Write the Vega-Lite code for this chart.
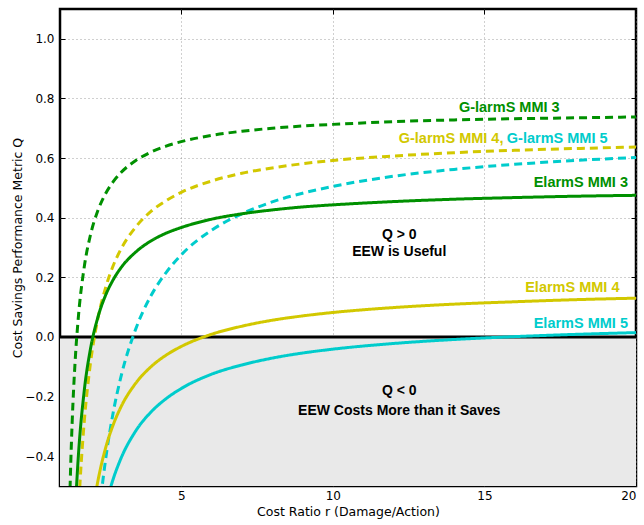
{
  "$schema": "https://vega.github.io/schema/vega-lite/v6.json",
  "width": 576,
  "height": 477,
  "autosize": {"type": "none"},
  "padding": {"left": 60, "top": 9, "right": 8, "bottom": 39},
  "background": "white",
  "config": {
    "view": {"stroke": "black", "strokeWidth": 2.5},
    "font": "DejaVu Sans",
    "axis": {
      "labelFont": "DejaVu Sans",
      "titleFont": "DejaVu Sans",
      "labelFontSize": 12,
      "titleFontSize": 12.5,
      "titleFontWeight": "normal",
      "labelColor": "black",
      "titleColor": "black",
      "domain": false,
      "tickColor": "black",
      "tickSize": -5,
      "tickWidth": 1,
      "gridColor": "#888888",
      "gridDash": [1, 3],
      "gridWidth": 0.8,
      "gridOpacity": 1
    }
  },
  "resolve": {"axis": {"x": "independent", "y": "independent"}},
  "datasets": {
    "curves": [
      {"system": "G-larmS", "mmi": "MMI 3", "r": 1.32, "q": -0.553},
      {"system": "G-larmS", "mmi": "MMI 3", "r": 1.35, "q": -0.44},
      {"system": "G-larmS", "mmi": "MMI 3", "r": 1.4, "q": -0.29},
      {"system": "G-larmS", "mmi": "MMI 3", "r": 1.5, "q": -0.08},
      {"system": "G-larmS", "mmi": "MMI 3", "r": 1.6, "q": 0.06},
      {"system": "G-larmS", "mmi": "MMI 3", "r": 1.8, "q": 0.235},
      {"system": "G-larmS", "mmi": "MMI 3", "r": 2.0, "q": 0.34},
      {"system": "G-larmS", "mmi": "MMI 3", "r": 2.25, "q": 0.424},
      {"system": "G-larmS", "mmi": "MMI 3", "r": 2.5, "q": 0.48},
      {"system": "G-larmS", "mmi": "MMI 3", "r": 2.75, "q": 0.52},
      {"system": "G-larmS", "mmi": "MMI 3", "r": 3, "q": 0.55},
      {"system": "G-larmS", "mmi": "MMI 3", "r": 3.5, "q": 0.592},
      {"system": "G-larmS", "mmi": "MMI 3", "r": 4, "q": 0.62},
      {"system": "G-larmS", "mmi": "MMI 3", "r": 4.5, "q": 0.64},
      {"system": "G-larmS", "mmi": "MMI 3", "r": 5, "q": 0.655},
      {"system": "G-larmS", "mmi": "MMI 3", "r": 6, "q": 0.676},
      {"system": "G-larmS", "mmi": "MMI 3", "r": 7, "q": 0.69},
      {"system": "G-larmS", "mmi": "MMI 3", "r": 8, "q": 0.7},
      {"system": "G-larmS", "mmi": "MMI 3", "r": 9, "q": 0.7075},
      {"system": "G-larmS", "mmi": "MMI 3", "r": 10, "q": 0.713},
      {"system": "G-larmS", "mmi": "MMI 3", "r": 12, "q": 0.722},
      {"system": "G-larmS", "mmi": "MMI 3", "r": 14, "q": 0.728},
      {"system": "G-larmS", "mmi": "MMI 3", "r": 16, "q": 0.732},
      {"system": "G-larmS", "mmi": "MMI 3", "r": 18, "q": 0.735},
      {"system": "G-larmS", "mmi": "MMI 3", "r": 20, "q": 0.738},

      {"system": "G-larmS", "mmi": "MMI 4", "r": 1.65, "q": -0.506},
      {"system": "G-larmS", "mmi": "MMI 4", "r": 1.7, "q": -0.422},
      {"system": "G-larmS", "mmi": "MMI 4", "r": 1.8, "q": -0.284},
      {"system": "G-larmS", "mmi": "MMI 4", "r": 2.0, "q": -0.092},
      {"system": "G-larmS", "mmi": "MMI 4", "r": 2.25, "q": 0.062},
      {"system": "G-larmS", "mmi": "MMI 4", "r": 2.5, "q": 0.164},
      {"system": "G-larmS", "mmi": "MMI 4", "r": 2.75, "q": 0.238},
      {"system": "G-larmS", "mmi": "MMI 4", "r": 3, "q": 0.2925},
      {"system": "G-larmS", "mmi": "MMI 4", "r": 3.5, "q": 0.369},
      {"system": "G-larmS", "mmi": "MMI 4", "r": 4, "q": 0.421},
      {"system": "G-larmS", "mmi": "MMI 4", "r": 4.5, "q": 0.457},
      {"system": "G-larmS", "mmi": "MMI 4", "r": 5, "q": 0.485},
      {"system": "G-larmS", "mmi": "MMI 4", "r": 6, "q": 0.523},
      {"system": "G-larmS", "mmi": "MMI 4", "r": 7, "q": 0.549},
      {"system": "G-larmS", "mmi": "MMI 4", "r": 8, "q": 0.567},
      {"system": "G-larmS", "mmi": "MMI 4", "r": 9, "q": 0.581},
      {"system": "G-larmS", "mmi": "MMI 4", "r": 10, "q": 0.592},
      {"system": "G-larmS", "mmi": "MMI 4", "r": 12, "q": 0.607},
      {"system": "G-larmS", "mmi": "MMI 4", "r": 14, "q": 0.618},
      {"system": "G-larmS", "mmi": "MMI 4", "r": 16, "q": 0.626},
      {"system": "G-larmS", "mmi": "MMI 4", "r": 18, "q": 0.632},
      {"system": "G-larmS", "mmi": "MMI 4", "r": 20, "q": 0.637},

      {"system": "G-larmS", "mmi": "MMI 5", "r": 2.35, "q": -0.536},
      {"system": "G-larmS", "mmi": "MMI 5", "r": 2.5, "q": -0.414},
      {"system": "G-larmS", "mmi": "MMI 5", "r": 2.75, "q": -0.256},
      {"system": "G-larmS", "mmi": "MMI 5", "r": 3, "q": -0.138},
      {"system": "G-larmS", "mmi": "MMI 5", "r": 3.5, "q": 0.027},
      {"system": "G-larmS", "mmi": "MMI 5", "r": 4, "q": 0.138},
      {"system": "G-larmS", "mmi": "MMI 5", "r": 4.5, "q": 0.216},
      {"system": "G-larmS", "mmi": "MMI 5", "r": 5, "q": 0.2755},
      {"system": "G-larmS", "mmi": "MMI 5", "r": 6, "q": 0.358},
      {"system": "G-larmS", "mmi": "MMI 5", "r": 7, "q": 0.413},
      {"system": "G-larmS", "mmi": "MMI 5", "r": 8, "q": 0.453},
      {"system": "G-larmS", "mmi": "MMI 5", "r": 9, "q": 0.482},
      {"system": "G-larmS", "mmi": "MMI 5", "r": 10, "q": 0.505},
      {"system": "G-larmS", "mmi": "MMI 5", "r": 12, "q": 0.539},
      {"system": "G-larmS", "mmi": "MMI 5", "r": 14, "q": 0.562},
      {"system": "G-larmS", "mmi": "MMI 5", "r": 16, "q": 0.579},
      {"system": "G-larmS", "mmi": "MMI 5", "r": 18, "q": 0.592},
      {"system": "G-larmS", "mmi": "MMI 5", "r": 20, "q": 0.602},

      {"system": "ElarmS", "mmi": "MMI 3", "r": 1.52, "q": -0.548},
      {"system": "ElarmS", "mmi": "MMI 3", "r": 1.6, "q": -0.408},
      {"system": "ElarmS", "mmi": "MMI 3", "r": 1.8, "q": -0.18},
      {"system": "ElarmS", "mmi": "MMI 3", "r": 2.0, "q": -0.043},
      {"system": "ElarmS", "mmi": "MMI 3", "r": 2.25, "q": 0.066},
      {"system": "ElarmS", "mmi": "MMI 3", "r": 2.5, "q": 0.139},
      {"system": "ElarmS", "mmi": "MMI 3", "r": 2.75, "q": 0.191},
      {"system": "ElarmS", "mmi": "MMI 3", "r": 3, "q": 0.2305},
      {"system": "ElarmS", "mmi": "MMI 3", "r": 3.5, "q": 0.285},
      {"system": "ElarmS", "mmi": "MMI 3", "r": 4, "q": 0.322},
      {"system": "ElarmS", "mmi": "MMI 3", "r": 4.5, "q": 0.348},
      {"system": "ElarmS", "mmi": "MMI 3", "r": 5, "q": 0.367},
      {"system": "ElarmS", "mmi": "MMI 3", "r": 6, "q": 0.395},
      {"system": "ElarmS", "mmi": "MMI 3", "r": 7, "q": 0.413},
      {"system": "ElarmS", "mmi": "MMI 3", "r": 8, "q": 0.426},
      {"system": "ElarmS", "mmi": "MMI 3", "r": 9, "q": 0.436},
      {"system": "ElarmS", "mmi": "MMI 3", "r": 10, "q": 0.443},
      {"system": "ElarmS", "mmi": "MMI 3", "r": 12, "q": 0.454},
      {"system": "ElarmS", "mmi": "MMI 3", "r": 14, "q": 0.462},
      {"system": "ElarmS", "mmi": "MMI 3", "r": 16, "q": 0.4675},
      {"system": "ElarmS", "mmi": "MMI 3", "r": 18, "q": 0.472},
      {"system": "ElarmS", "mmi": "MMI 3", "r": 20, "q": 0.475},

      {"system": "ElarmS", "mmi": "MMI 4", "r": 2.2, "q": -0.51},
      {"system": "ElarmS", "mmi": "MMI 4", "r": 2.25, "q": -0.483},
      {"system": "ElarmS", "mmi": "MMI 4", "r": 2.5, "q": -0.374},
      {"system": "ElarmS", "mmi": "MMI 4", "r": 2.75, "q": -0.296},
      {"system": "ElarmS", "mmi": "MMI 4", "r": 3, "q": -0.237},
      {"system": "ElarmS", "mmi": "MMI 4", "r": 3.5, "q": -0.155},
      {"system": "ElarmS", "mmi": "MMI 4", "r": 4, "q": -0.1},
      {"system": "ElarmS", "mmi": "MMI 4", "r": 4.5, "q": -0.061},
      {"system": "ElarmS", "mmi": "MMI 4", "r": 5, "q": -0.032},
      {"system": "ElarmS", "mmi": "MMI 4", "r": 6, "q": 0.009},
      {"system": "ElarmS", "mmi": "MMI 4", "r": 7, "q": 0.036},
      {"system": "ElarmS", "mmi": "MMI 4", "r": 8, "q": 0.056},
      {"system": "ElarmS", "mmi": "MMI 4", "r": 9, "q": 0.0705},
      {"system": "ElarmS", "mmi": "MMI 4", "r": 10, "q": 0.082},
      {"system": "ElarmS", "mmi": "MMI 4", "r": 12, "q": 0.0985},
      {"system": "ElarmS", "mmi": "MMI 4", "r": 14, "q": 0.11},
      {"system": "ElarmS", "mmi": "MMI 4", "r": 16, "q": 0.118},
      {"system": "ElarmS", "mmi": "MMI 4", "r": 18, "q": 0.125},
      {"system": "ElarmS", "mmi": "MMI 4", "r": 20, "q": 0.13},

      {"system": "ElarmS", "mmi": "MMI 5", "r": 2.65, "q": -0.511},
      {"system": "ElarmS", "mmi": "MMI 5", "r": 2.75, "q": -0.478},
      {"system": "ElarmS", "mmi": "MMI 5", "r": 3, "q": -0.41},
      {"system": "ElarmS", "mmi": "MMI 5", "r": 3.5, "q": -0.315},
      {"system": "ElarmS", "mmi": "MMI 5", "r": 4, "q": -0.252},
      {"system": "ElarmS", "mmi": "MMI 5", "r": 4.5, "q": -0.207},
      {"system": "ElarmS", "mmi": "MMI 5", "r": 5, "q": -0.173},
      {"system": "ElarmS", "mmi": "MMI 5", "r": 6, "q": -0.125},
      {"system": "ElarmS", "mmi": "MMI 5", "r": 7, "q": -0.094},
      {"system": "ElarmS", "mmi": "MMI 5", "r": 8, "q": -0.071},
      {"system": "ElarmS", "mmi": "MMI 5", "r": 9, "q": -0.054},
      {"system": "ElarmS", "mmi": "MMI 5", "r": 10, "q": -0.041},
      {"system": "ElarmS", "mmi": "MMI 5", "r": 12, "q": -0.022},
      {"system": "ElarmS", "mmi": "MMI 5", "r": 14, "q": -0.0086},
      {"system": "ElarmS", "mmi": "MMI 5", "r": 16, "q": 0.0011},
      {"system": "ElarmS", "mmi": "MMI 5", "r": 18, "q": 0.0086},
      {"system": "ElarmS", "mmi": "MMI 5", "r": 20, "q": 0.0145}
    ],
    "curveLabels": [
      {"label": "G-larmS MMI 3", "mmi": "MMI 3", "r": 15.82, "q": 0.768},
      {"label": "G-larmS MMI 4,", "mmi": "MMI 4", "r": 13.9, "q": 0.663},
      {"label": "G-larmS MMI 5", "mmi": "MMI 5", "r": 17.4, "q": 0.663},
      {"label": "ElarmS MMI 3", "mmi": "MMI 3", "r": 18.18, "q": 0.517},
      {"label": "ElarmS MMI 4", "mmi": "MMI 4", "r": 17.9, "q": 0.163},
      {"label": "ElarmS MMI 5", "mmi": "MMI 5", "r": 18.18, "q": 0.044}
    ],
    "regionNotes": [
      {"label": "Q > 0", "r": 12.19, "q": 0.342},
      {"label": "EEW is Useful", "r": 12.19, "q": 0.285},
      {"label": "Q < 0", "r": 12.19, "q": -0.181},
      {"label": "EEW Costs More than it Saves", "r": 12.19, "q": -0.247}
    ]
  },
  "layer": [
    {
      "description": "Shaded band where the warning costs more than it saves; carries the labelled axes",
      "data": {"values": [{}]},
      "mark": {"type": "rect", "color": "#e9e9e9"},
      "encoding": {
        "x": {
          "datum": 1,
          "type": "quantitative",
          "scale": {"domain": [1, 20], "nice": false, "zero": false},
          "axis": {
            "orient": "bottom",
            "values": [5, 10, 15, 20],
            "title": "Cost Ratio r (Damage/Action)",
            "titlePadding": 4,
            "ticks": false,
            "labelPadding": 4,
            "grid": true
          }
        },
        "x2": {"datum": 20},
        "y": {
          "datum": -0.5,
          "type": "quantitative",
          "scale": {"domain": [-0.5, 1.1], "nice": false, "zero": false},
          "axis": {
            "orient": "left",
            "values": [-0.4, -0.2, 0, 0.2, 0.4, 0.6, 0.8, 1.0],
            "format": ".1f",
            "title": "Cost Savings Performance Metric Q",
            "titlePadding": 0,
            "ticks": false,
            "labelPadding": 6,
            "grid": true
          }
        },
        "y2": {"datum": 0}
      }
    },
    {
      "description": "Inward tick marks on the bottom and left frame edges",
      "data": {"values": [{}]},
      "mark": {"type": "point", "opacity": 0},
      "encoding": {
        "x": {"datum": 1, "type": "quantitative", "axis": {"orient": "bottom", "values": [5, 10, 15, 20], "labels": false, "title": null, "grid": false}},
        "y": {"datum": 0, "type": "quantitative", "axis": {"orient": "left", "values": [-0.4, -0.2, 0, 0.2, 0.4, 0.6, 0.8, 1.0], "labels": false, "title": null, "grid": false}}
      }
    },
    {
      "description": "Inward tick marks on the top and right frame edges",
      "data": {"values": [{}]},
      "mark": {"type": "point", "opacity": 0},
      "encoding": {
        "x": {"datum": 1, "type": "quantitative", "axis": {"orient": "top", "values": [5, 10, 15, 20], "labels": false, "title": null, "grid": false}},
        "y": {"datum": 0, "type": "quantitative", "axis": {"orient": "right", "values": [-0.4, -0.2, 0, 0.2, 0.4, 0.6, 0.8, 1.0], "labels": false, "title": null, "grid": false}}
      }
    },
    {
      "data": {"values": [{}]},
      "mark": {"type": "rule", "color": "black", "strokeWidth": 3},
      "encoding": {"y": {"datum": 0, "type": "quantitative", "axis": null}}
    },
    {
      "data": {"name": "curves"},
      "mark": {"type": "line", "strokeWidth": 3, "clip": true, "interpolate": "monotone"},
      "encoding": {
        "x": {"field": "r", "type": "quantitative", "axis": null},
        "y": {"field": "q", "type": "quantitative", "axis": null},
        "color": {
          "field": "mmi",
          "type": "nominal",
          "scale": {"domain": ["MMI 3", "MMI 4", "MMI 5"], "range": ["#009000", "#d2c800", "#00cccc"]},
          "legend": null
        },
        "strokeDash": {
          "field": "system",
          "type": "nominal",
          "scale": {"domain": ["G-larmS", "ElarmS"], "range": [[8, 5], [1, 0]]},
          "legend": null
        },
        "detail": {"field": "system"},
        "order": {"field": "r", "type": "quantitative"}
      }
    },
    {
      "data": {"name": "curveLabels"},
      "mark": {"type": "text", "font": "Liberation Sans", "fontWeight": "bold", "fontSize": 14.5, "align": "center", "baseline": "middle"},
      "encoding": {
        "x": {"field": "r", "type": "quantitative", "axis": null},
        "y": {"field": "q", "type": "quantitative", "axis": null},
        "text": {"field": "label"},
        "color": {"field": "mmi", "type": "nominal", "legend": null}
      }
    },
    {
      "data": {"name": "regionNotes"},
      "mark": {"type": "text", "font": "Liberation Sans", "fontWeight": "bold", "fontSize": 14, "align": "center", "baseline": "middle", "color": "black"},
      "encoding": {
        "x": {"field": "r", "type": "quantitative", "axis": null},
        "y": {"field": "q", "type": "quantitative", "axis": null},
        "text": {"field": "label"}
      }
    }
  ]
}
